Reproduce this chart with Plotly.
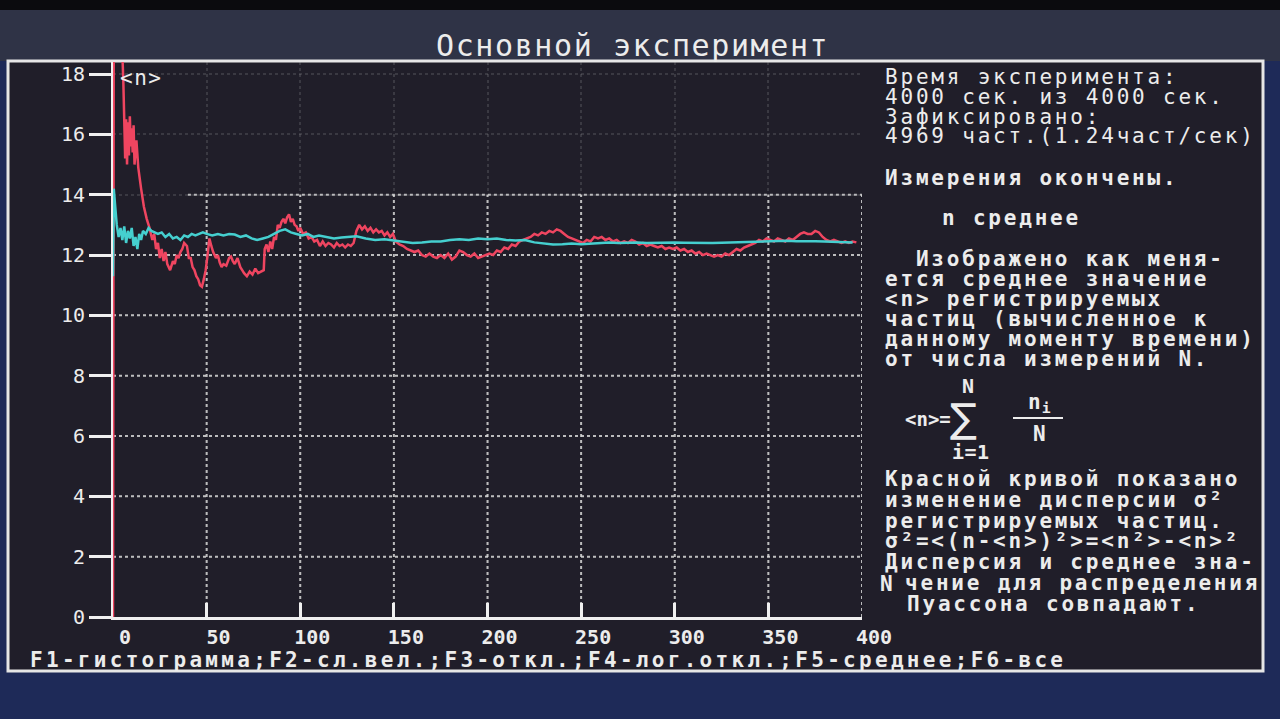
import plotly.graph_objects as go

# running mean <n> (cyan) and running dispersion (red) vs number of measurements N
mean_x = [0, 0.4, 1.2, 2, 3, 4, 5, 6, 7, 8, 9, 10, 11, 12, 13, 14, 15, 16, 17.5, 19,
          20.5, 22, 24, 26, 28, 30, 32, 34, 36, 38, 40, 42, 44, 46, 48, 50, 53, 56, 59, 62,
          65, 68, 71, 74, 77, 80, 83, 86, 89, 92, 95, 98, 101, 104, 107, 110, 114, 118, 122, 126,
          130, 135, 140, 145, 150, 155, 160, 165, 170, 175, 180, 185, 190, 195, 200, 205, 210, 215, 220, 225,
          230, 235, 240, 245, 250, 255, 260, 265, 270, 275, 280, 285, 290, 295, 300, 305, 310, 315, 320, 325,
          330, 335, 340, 345, 350, 355, 360, 365, 370, 375, 380, 385, 390, 395]
mean_y = [11.3, 14.2, 13.6, 13.0, 12.6, 12.9, 12.5, 12.95, 12.4, 12.8, 12.55, 12.9, 12.3, 12.6, 12.2, 12.7, 12.5, 12.8, 12.7, 12.9,
          12.8, 12.75, 12.7, 12.75, 12.6, 12.7, 12.55, 12.6, 12.5, 12.65, 12.6, 12.7, 12.65, 12.7, 12.75, 12.7, 12.65, 12.7, 12.65, 12.7,
          12.68, 12.6, 12.65, 12.55, 12.5, 12.55, 12.6, 12.7, 12.8, 12.85, 12.75, 12.7, 12.65, 12.7, 12.6, 12.65, 12.6, 12.55, 12.58, 12.6,
          12.62, 12.55, 12.5, 12.52, 12.48, 12.45, 12.4, 12.42, 12.45, 12.45, 12.5, 12.52, 12.5, 12.55, 12.52, 12.55, 12.5, 12.48, 12.5, 12.42,
          12.38, 12.35, 12.36, 12.38, 12.36, 12.38, 12.4, 12.42, 12.4, 12.41, 12.42, 12.4, 12.41, 12.42, 12.42, 12.41, 12.4, 12.41, 12.4, 12.41,
          12.42, 12.42, 12.43, 12.45, 12.45, 12.46, 12.47, 12.46, 12.47, 12.46, 12.45, 12.44, 12.43, 12.42]

disp_x = [0, 0.8, 3.5, 4.5, 5.5, 6, 6.5, 7, 7.5, 8, 8.5, 9, 9.5, 10, 10.5, 11, 11.5, 12.5, 13.5, 15,
          16.5, 18, 19.5, 21, 22, 23, 24, 25, 26, 27, 28, 29, 30.5, 32, 33, 34, 35, 36, 37, 38,
          39.5, 40.5, 41.5, 42.5, 43.5, 44.5, 45.5, 46.5, 47.5, 48.5, 49.5, 50.5, 51.5, 52.5, 53.5, 55, 56, 57, 58, 59,
          60.5, 62, 63, 64, 65, 66.5, 68, 69, 70, 71.5, 73, 74.5, 76, 77.5, 79, 80.5, 81, 82, 83, 84,
          85, 86, 87, 88, 89, 90, 91, 92, 93, 94, 95, 96, 97, 98, 99, 100, 101.5, 103, 104.5, 106,
          107.5, 109, 110.5, 112, 113.5, 115, 116.5, 118, 119.5, 121, 122.5, 124, 125.5, 127, 128.5, 130, 131.5, 133, 134.5, 136,
          137.5, 139, 140.5, 142, 143.5, 145, 146.5, 148, 149.5, 151, 153, 155, 157, 159, 161, 163, 165, 167, 169, 171,
          173, 175, 177, 179, 181, 183, 185, 187, 189, 191, 193, 195, 197, 199, 201, 203, 205, 207, 209, 211,
          213, 215, 217, 219, 221, 223, 225, 227, 229, 231, 233, 235, 237, 239, 241, 243, 245, 247, 249, 251,
          253, 255, 257, 259, 261, 263, 265, 267, 269, 271, 273, 275, 277, 279, 281, 283, 285, 287, 289, 291,
          293, 295, 297, 299, 301, 303, 305, 307, 309, 311, 313, 315, 317, 319, 321, 323, 325, 327, 329, 331,
          333, 335, 337, 339, 341, 343, 345, 347, 349, 351, 353, 355, 357, 359, 361, 363, 365, 367, 369, 371,
          373, 375, 377, 379, 381, 383, 385, 387, 389, 391, 393, 395, 397]
disp_y = [0, 40, 40, 19.5, 17.8, 16.3, 15.2, 16.5, 15.0, 16.4, 15.3, 16.6, 15.6, 16.2, 15.4, 16.3, 15.0, 15.8, 14.9, 14.2,
          13.6, 13.2, 12.9, 12.5, 12.7, 12.2, 12.4, 11.9, 12.2, 11.8, 12.1, 11.7, 11.5, 11.8, 11.7, 12.0, 11.9, 12.1, 12.2, 12.4,
          12.3, 11.9, 11.9, 11.6, 11.5, 11.3, 11.2, 11.0, 10.95, 11.2, 11.5, 12.0, 12.55, 12.3, 12.1, 11.9, 12.0, 11.75, 11.6, 11.7,
          11.65, 11.9, 11.95, 11.8, 11.7, 11.9, 11.6, 11.5, 11.4, 11.3, 11.45, 11.35, 11.55, 11.4, 11.45, 11.5, 12.2, 12.35, 12.1, 12.45,
          12.2, 12.6, 12.5, 13.0, 12.9, 13.1, 13.2, 13.05, 13.25, 13.35, 13.1, 13.2, 13.0, 12.95, 12.8, 12.9, 12.7, 12.75, 12.55, 12.6,
          12.45, 12.5, 12.3, 12.45, 12.3, 12.4, 12.35, 12.25, 12.4, 12.3, 12.35, 12.25, 12.35, 12.3, 12.4, 12.8, 13.0, 12.85, 12.95, 12.8,
          12.9, 12.75, 12.85, 12.75, 12.8, 12.65, 12.75, 12.6, 12.7, 12.45, 12.35, 12.3, 12.2, 12.15, 12.1, 12.15, 12.0, 11.95, 12.05, 11.95,
          11.9, 12.0, 11.9, 12.05, 11.85, 11.95, 12.15, 12.1, 12.0, 11.95, 12.05, 11.9, 11.95, 12.0, 12.05, 12.0, 12.15, 12.1, 12.25, 12.2,
          12.35, 12.3, 12.45, 12.5, 12.55, 12.6, 12.7, 12.65, 12.75, 12.7, 12.8, 12.75, 12.85, 12.8, 12.7, 12.6, 12.55, 12.5, 12.45, 12.4,
          12.5, 12.45, 12.6, 12.55, 12.6, 12.5, 12.55, 12.45, 12.5, 12.4, 12.45, 12.4, 12.5, 12.45, 12.35, 12.4, 12.3, 12.35, 12.3, 12.25,
          12.3, 12.2, 12.25, 12.2, 12.25, 12.15, 12.2, 12.1, 12.15, 12.05, 12.1, 12.0, 12.05, 12.0, 11.95, 12.0, 11.95, 12.05, 12.0, 12.1,
          12.2, 12.15, 12.25, 12.3, 12.35, 12.4, 12.5, 12.45, 12.55, 12.5, 12.45, 12.55, 12.5, 12.45, 12.55, 12.5, 12.6, 12.7, 12.75, 12.7,
          12.7, 12.8, 12.75, 12.6, 12.5, 12.45, 12.5, 12.45, 12.4, 12.45, 12.4, 12.45, 12.42]

y_ticks = [0, 2, 4, 6, 8, 10, 12, 14, 16, 18]
x_ticks = [0, 50, 100, 150, 200, 250, 300, 350, 400]

title_text = "Основной эксперимент"
info_lines = [
    "Время эксперимента:",
    "4000 сек. из 4000 сек.",
    "Зафиксировано:",
    "4969 част.(1.24част/сек)",
]
status_text = "Измерения окончены."
mode_text = "n среднее"
desc_lines = [
    "\u00a0\u00a0Изображено как меня-",
    "ется среднее значение",
    "&lt;n&gt; регистрируемых",
    "частиц (вычисленное к",
    "данному моменту времени)",
    "от числа измерений N.",
]
disp_lines = [
    "Красной кривой показано",
    "изменение дисперсии σ²",
    "регистрируемых частиц.",
    "σ²=&lt;(n-&lt;n&gt;)²&gt;=&lt;n²&gt;-&lt;n&gt;²",
    "Дисперсия и среднее зна-",
    "чение для распределения",
    "Пуассона совпадают.",
]
disp_indent = [0, 0, 0, 0, 0, 20, 22]
fkeys_text = "F1-гистограмма;F2-сл.вел.;F3-откл.;F4-лог.откл.;F5-среднее;F6-все"

W, H = 1280, 719
L, R, T, B = 113, 862, 62, 617
MONO = "DejaVu Sans Mono"
TXT = "#ececec"
GRID = "rgba(225,225,225,0.8)"


def px(x):
    return (x - L) / (R - L)


def py(y):
    return (B - y) / (B - T)


def spaced(s, ls):
    return '<span style="letter-spacing:%.1fpx">%s</span>' % (ls, s)


fig = go.Figure()
fig.add_trace(go.Scatter(x=disp_x, y=disp_y, mode="lines",
                         line=dict(color="#ef4560", width=2.5)))
fig.add_trace(go.Scatter(x=mean_x, y=mean_y, mode="lines",
                         line=dict(color="#45cfcf", width=2.5)))

shapes = [
    # bezel / title strip
    dict(type="rect", xref="paper", yref="paper", x0=px(0), x1=px(W), y0=py(0), y1=py(10),
         fillcolor="#0b0b0e", line_width=0, layer="below"),
    dict(type="rect", xref="paper", yref="paper", x0=px(0), x1=px(W), y0=py(10), y1=py(61),
         fillcolor="#2f3346", line_width=0, layer="below"),
    # frame interior
    dict(type="rect", xref="paper", yref="paper", x0=px(8), x1=px(1263), y0=py(61), y1=py(671),
         fillcolor="#201e29", line=dict(color="#e6e6e6", width=3), layer="below"),
    # fraction bar of the formula
    dict(type="line", xref="paper", yref="paper", x0=px(1013), x1=px(1063), y0=py(418), y1=py(418),
         line=dict(color=TXT, width=2)),
]
# bright dotted grid over the lower part of the plot (upper part is only faint on the screen)
for xv in x_ticks[1:]:
    shapes.append(dict(type="line", xref="x", yref="y", x0=xv, x1=xv, y0=0, y1=14,
                       line=dict(color=GRID, width=2, dash="dot"), layer="below"))
for yv in y_ticks[1:8]:
    shapes.append(dict(type="line", xref="x", yref="y", x0=40 if yv == 14 else 0, x1=400, y0=yv, y1=yv,
                       line=dict(color=GRID, width=2, dash="dot"), layer="below"))

ann = []


def note(text, x, y, size=21, ls=2.8, bold=True, anchor="left", family=MONO):
    ann.append(dict(text=spaced(text, ls), x=px(x), y=py(y), xref="paper", yref="paper",
                    xanchor=anchor, yanchor="middle", showarrow=False,
                    font=dict(family=family, size=size, color=TXT,
                              weight="bold" if bold else "normal")))


note(title_text, 632, 45, size=30, ls=1.6, bold=False, anchor="center")
for i, s in enumerate(info_lines):
    note(s, 883, 77 + i * 19.8, bold=False)
note(status_text, 883, 178)
note(mode_text, 940, 218)
for i, s in enumerate(desc_lines):
    note(s, 883, 259 + i * 19.9)
for i, s in enumerate(disp_lines):
    note(s, 883 + disp_indent[i], 479 + i * 20.8)

# formula <n> = sum_{i=1}^{N} n_i / N
note("N", 960, 386, size=20)
note("&lt;n&gt;=", 903, 419, size=19, ls=0)
note("∑", 948, 418, size=40, ls=0, bold=False, family="DejaVu Sans")
note("n<sub>i</sub>", 1040, 403, ls=1, anchor="center")
note("N", 1040, 434, anchor="center")
note("i=1", 950, 452, size=20, ls=0.5)

# axis titles
note("&lt;n&gt;", 118, 78, bold=False, ls=1.5)
note("N", 878, 584)

note(fkeys_text, 28, 660, ls=3.3)

fig.update_layout(
    width=W, height=H,
    margin=dict(l=L, r=W - R, t=T, b=H - B, autoexpand=False),
    paper_bgcolor="#1e2a58",
    plot_bgcolor="rgba(0,0,0,0)",
    showlegend=False,
    shapes=shapes,
    annotations=ann,
    xaxis=dict(range=[0, 400], tickvals=x_ticks, ticks="inside", ticklen=14, tickwidth=2.5,
               tickcolor="#f0f0f0", showline=True, linecolor="#f0f0f0", linewidth=3,
               showgrid=True, gridcolor="rgba(200,200,200,0.16)", gridwidth=2, griddash="dot",
               zeroline=False, ticklabelshift=12, ticklabelstandoff=0,
               tickfont=dict(family=MONO, size=20, color=TXT, weight="bold")),
    yaxis=dict(range=[0, 18.4], tickvals=y_ticks, ticks="outside", ticklen=22, tickwidth=2.5,
               tickcolor="#f0f0f0", showline=True, linecolor="#f0f0f0", linewidth=2,
               showgrid=True, gridcolor="rgba(200,200,200,0.16)", gridwidth=2, griddash="dot",
               zeroline=False,
               tickfont=dict(family=MONO, size=20, color=TXT)),
)

fig.write_html("out.html", config={"displayModeBar": False},
               post_script="document.body.style.margin='0';")
